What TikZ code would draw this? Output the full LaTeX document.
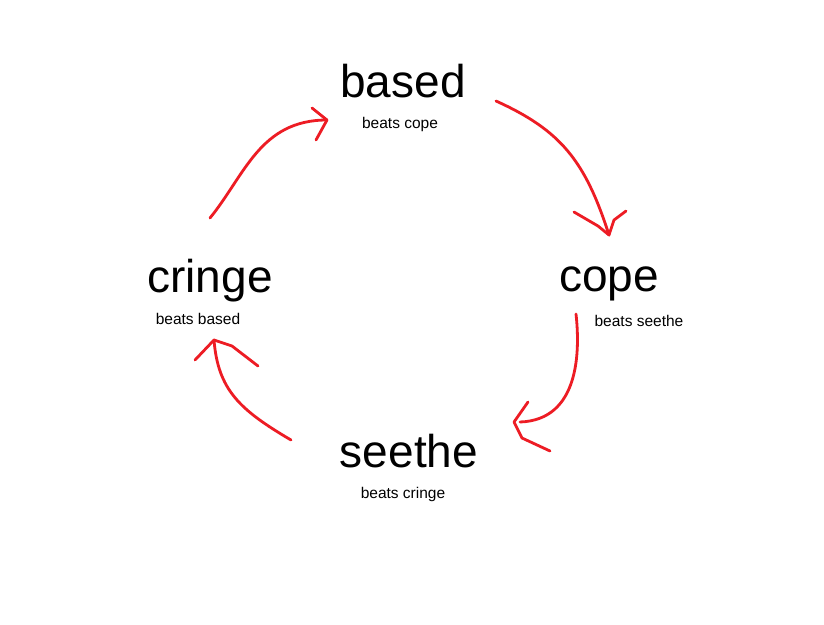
\documentclass[tikz,border=0pt]{standalone}
\usepackage{fontspec}
\setmainfont{Liberation Sans}
\definecolor{redink}{RGB}{237,28,36}
\begin{document}
\begin{tikzpicture}[x=1pt,y=-1pt,
  big/.style={font=\fontsize{46}{50}\selectfont,anchor=base,inner sep=0},
  small/.style={font=\fontsize{15.5}{18}\selectfont,anchor=base,inner sep=0},
  ink/.style={draw=redink,line width=2.8pt,line cap=round,line join=round}]
\fill[white] (0,0) rectangle (824,624);
\useasboundingbox (0,0) rectangle (824,624);
\node[big] (based) at (403,97) {based};
\node[small] (bcope) at (400,128) {beats cope};
\node[big] (cope) at (609,291) {cope};
\node[small] (bseethe) at (639,326) {beats seethe};
\node[big] (cringe) at (210,292) {cringe};
\node[small] (bbased) at (198,324) {beats based};
\node[big] (seethe) at (409,467) {seethe};
\node[small] (bcringe) at (403,498) {beats cringe};
% arrow based -> cope
\coordinate (a1s) at (496,101); \coordinate (a1e) at (609,235);
\coordinate (a1l) at (574,212); \coordinate (a1r) at (626,211);
\draw[ink] (a1s) .. controls (560,130) and (585,160) .. (a1e);
\draw[ink] (a1l) -- (598,226) -- (a1e) -- (614,220) -- (a1r);
% arrow cope -> seethe
\coordinate (a2s) at (576,314); \coordinate (a2e) at (514,422);
\coordinate (a2l) at (528,402); \coordinate (a2r) at (550,451);
\draw[ink] (a2s) .. controls (580,350) and (580,420) .. (520,422);
\draw[ink] (a2l) -- (a2e) -- (522,438) -- (a2r);
% arrow seethe -> cringe
\coordinate (a3s) at (291,440); \coordinate (a3e) at (214,340);
\coordinate (a3l) at (195,360); \coordinate (a3r) at (258,366);
\draw[ink] (a3s) .. controls (240,410) and (218,390) .. (a3e);
\draw[ink] (a3l) -- (a3e) -- (232,346) -- (a3r);
% arrow cringe -> based
\coordinate (a4s) at (210,218); \coordinate (a4e) at (327,120);
\coordinate (a4l) at (312,108); \coordinate (a4r) at (316,140);
\draw[ink] (a4s) .. controls (245,175) and (260,120) .. (a4e);
\draw[ink] (a4l) -- (a4e) -- (a4r);
\end{tikzpicture}
\end{document}
